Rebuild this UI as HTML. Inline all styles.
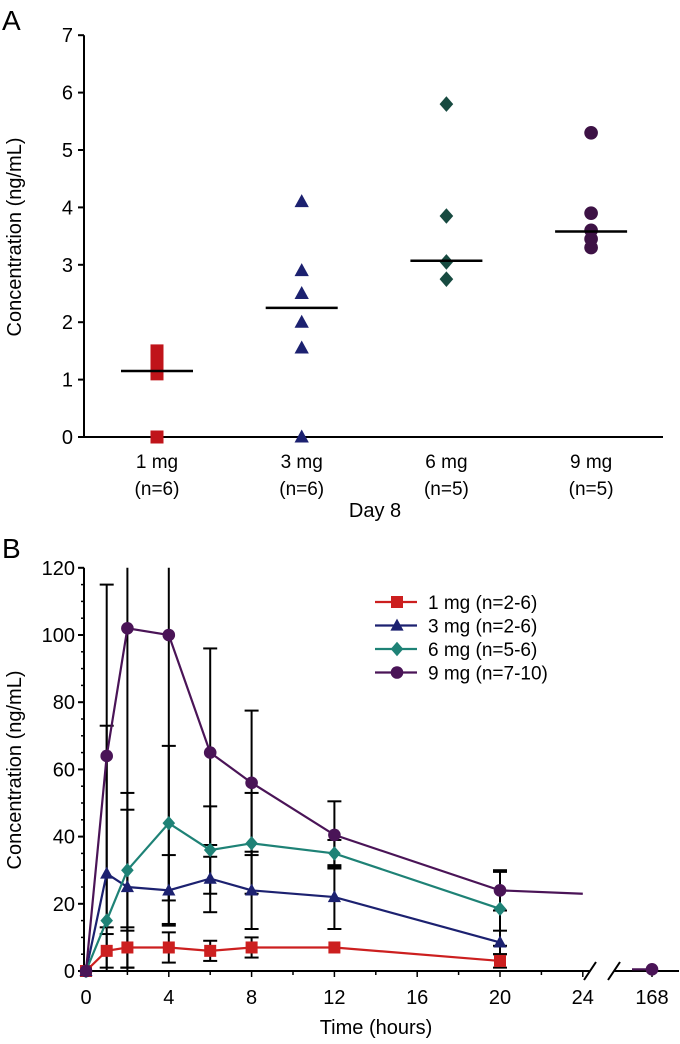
<!DOCTYPE html>
<html><head><meta charset="utf-8"><style>
html,body{margin:0;padding:0;background:#fff;overflow:hidden;}
svg{display:block;font-family:"Liberation Sans",Arial,sans-serif;}
</style></head><body>
<svg id="chart" width="680" height="1044" viewBox="0 0 680 1044" xmlns="http://www.w3.org/2000/svg">
<text x="2" y="30" font-size="28">A</text>
<text x="2" y="558" font-size="28">B</text>
<g id="pa"></g>
<g id="pb"></g>
</svg>
<script>
// ---- Panel A data ----
const catsA = ["1 mg","3 mg","6 mg","9 mg"];
const nA = ["(n=6)","(n=6)","(n=5)","(n=5)"];
const ptsA = [[0,1.1,1.2,1.4,1.5],[0,1.55,2.0,2.5,2.9,4.1],[2.75,3.05,3.85,5.8],[3.3,3.45,3.6,3.9,5.3]];
const medA = [1.15,2.25,3.07,3.58];
const ticksA = [0,1,2,3,4,5,6,7];
// ---- Panel B data ----
const seriesNames = ["1 mg (n=2-6)","3 mg (n=2-6)","6 mg (n=5-6)","9 mg (n=7-10)"];
const timesB = [0,1,2,4,6,8,12,20];
const mean1 = [0,6,7,7,6,7,7,3];
const sd1 = [0,5,6,4.5,3,3,0,2];
const mean3 = [0,29,25,24,27.5,24,22,8.5];
const sd3 = [0,44,28,10.5,10,11.5,9.5,3.5];
const mean6 = [0,15,30,44,36,38,35,18.5];
const sd6 = [0,0,18,23,13,15,4,11];
const mean9 = [0,64,102,100,65,56,40.5,24];
const sd9 = [0,51,101,86,31,21.5,10,6];
const tail9 = [[24,23],[168,0.5]];
const ticksBy = [0,20,40,60,80,100,120];
const ticksBx = [0,4,8,12,16,20,24];

const NS="http://www.w3.org/2000/svg";
function mk(tag,attrs,parent){const e=document.createElementNS(NS,tag);for(const k in attrs)e.setAttribute(k,attrs[k]);parent.appendChild(e);return e;}
const colors=["#cc1f1f","#1c2170","#1e8276","#4a1457"];
const colorsA=["#c0141a","#1c2170","#174a40","#3d1245"];

function marker(g,kind,cx,cy,s,col){
  let e;
  if(kind==0) e=mk('rect',{x:cx-s,y:cy-s,width:2*s,height:2*s,fill:col},g);
  else if(kind==1) e=mk('polygon',{points:`${cx},${cy-s*1.15} ${cx+s*1.1},${cy+s*0.85} ${cx-s*1.1},${cy+s*0.85}`,fill:col},g);
  else if(kind==2) e=mk('polygon',{points:`${cx},${cy-s*1.2} ${cx+s*1.05},${cy} ${cx},${cy+s*1.2} ${cx-s*1.05},${cy}`,fill:col},g);
  else e=mk('circle',{cx:cx,cy:cy,r:s*1.05,fill:col},g);
  return e;
}

// Panel A
const pa=document.getElementById('pa');
const yA=v=>437-v*57.4;
const xA=i=>157+i*144.7;
let ax=mk('path',{d:`M84,${yA(7)} V437 H663`,stroke:'#000','stroke-width':2,fill:'none'},pa);

ticksA.forEach(t=>{
  let l=mk('line',{x1:78,x2:84,y1:yA(t),y2:yA(t),stroke:'#000','stroke-width':2},pa);
  
  let tx=mk('text',{x:73,y:yA(t)+7,'font-size':20,'text-anchor':'end'},pa);tx.textContent=t;
  
});
catsA.forEach((c,i)=>{
  let t=mk('text',{x:xA(i),y:468,'font-size':19,'text-anchor':'middle'},pa);t.textContent=c;
  
  let t2=mk('text',{x:xA(i),y:495,'font-size':19,'text-anchor':'middle'},pa);t2.textContent=nA[i];
  
  ptsA[i].forEach(v=>{
    let m=marker(pa,i,xA(i),yA(v),6.5,colorsA[i]);
    
  });
  let md=mk('line',{x1:xA(i)-36,x2:xA(i)+36,y1:yA(medA[i]),y2:yA(medA[i]),stroke:'#000','stroke-width':2.5},pa);
  
});
let xt=mk('text',{x:375,y:517,'font-size':20,'text-anchor':'middle'},pa);xt.textContent='Day 8';

let yt=mk('text',{x:0,y:0,'font-size':20,'text-anchor':'middle',transform:`translate(21,237) rotate(-90)`},pa);yt.textContent='Concentration (ng/mL)';


// Panel B
const pb=document.getElementById('pb');
const yB=v=>971-v*3.36;
const xB=t=>t<=24?86+t*20.7:652+(t-168)*20.7;
let axb=mk('path',{d:`M84,${yB(120)} V971 H590 M614,971 H679`,stroke:'#000','stroke-width':2,fill:'none'},pb);

[[584,596],[608,620]].forEach(b=>{let br=mk('line',{x1:b[0],y1:980,x2:b[1],y2:962,stroke:'#000','stroke-width':2},pb);
 });
for(let v=0;v<=120;v+=5){let l=mk('line',{x1:v%20==0?78:81,x2:84,y1:yB(v),y2:yB(v),stroke:'#000','stroke-width':v%20==0?2:1.5},pb);
 }
ticksBy.forEach(t=>{let tx=mk('text',{x:75,y:yB(t)+7,'font-size':20,'text-anchor':'end'},pb);tx.textContent=t;
 });
for(let t=0;t<=24;t+=2){let l=mk('line',{x1:xB(t),x2:xB(t),y1:971,y2:t%4==0?977:975,stroke:'#000','stroke-width':1.5},pb);
 }
mk('line',{x1:xB(168),x2:xB(168),y1:971,y2:977,stroke:'#000','stroke-width':1.5},pb);
ticksBx.concat([168]).forEach(t=>{let tx=mk('text',{x:xB(t),y:1004,'font-size':20,'text-anchor':'middle'},pb);tx.textContent=t;
 });
let xtb=mk('text',{x:376,y:1034,'font-size':20,'text-anchor':'middle'},pb);xtb.textContent='Time (hours)';

let ytb=mk('text',{x:0,y:0,'font-size':20,'text-anchor':'middle',transform:`translate(21,770) rotate(-90)`},pb);ytb.textContent='Concentration (ng/mL)';


const means=[mean1,mean3,mean6,mean9], sds=[sd1,sd3,sd6,sd9];
means.forEach((m,si)=>{
  m.forEach((v,i)=>{
    const s=sds[si][i]; if(!s) return;
    const hi=Math.min(v+s,120), lo=Math.max(v-s,0), x=xB(timesB[i]);
    let e=mk('line',{x1:x,x2:x,y1:yB(hi),y2:yB(lo),stroke:'#000','stroke-width':2},pb);
    
    if(v+s<=120) mk('line',{x1:x-7,x2:x+7,y1:yB(hi),y2:yB(hi),stroke:'#000','stroke-width':2},pb);
    mk('line',{x1:x-7,x2:x+7,y1:yB(lo),y2:yB(lo),stroke:'#000','stroke-width':2},pb);
  });
});
means.forEach((m,si)=>{
  let d=m.map((v,i)=>(i?'L':'M')+xB(timesB[i])+','+yB(v)).join(' ');
  if(si==3){d+=` L${xB(tail9[0][0])},${yB(tail9[0][1])} M${xB(168)-20},${yB(tail9[1][1])} L${xB(168)},${yB(tail9[1][1])}`;}
  let p=mk('path',{d:d,stroke:colors[si],'stroke-width':2.2,fill:'none'},pb);
  
  m.forEach((v,i)=>{let mm=marker(pb,si,xB(timesB[i]),yB(v),6,colors[si]);
    });
  if(si==3){let mm=marker(pb,3,xB(168),yB(tail9[1][1]),6,colors[3]);
    }
});
seriesNames.forEach((n,si)=>{
  const y=602+si*23.5;
  const g=mk('g',{},pb);
  
  mk('line',{x1:375,x2:417,y1:y,y2:y,stroke:colors[si],'stroke-width':2.2},g);
  marker(g,si,397,y,6,colors[si]);
  let t=mk('text',{x:428,y:y+7,'font-size':19},g);t.textContent=n;
});
</script>
</body></html>
